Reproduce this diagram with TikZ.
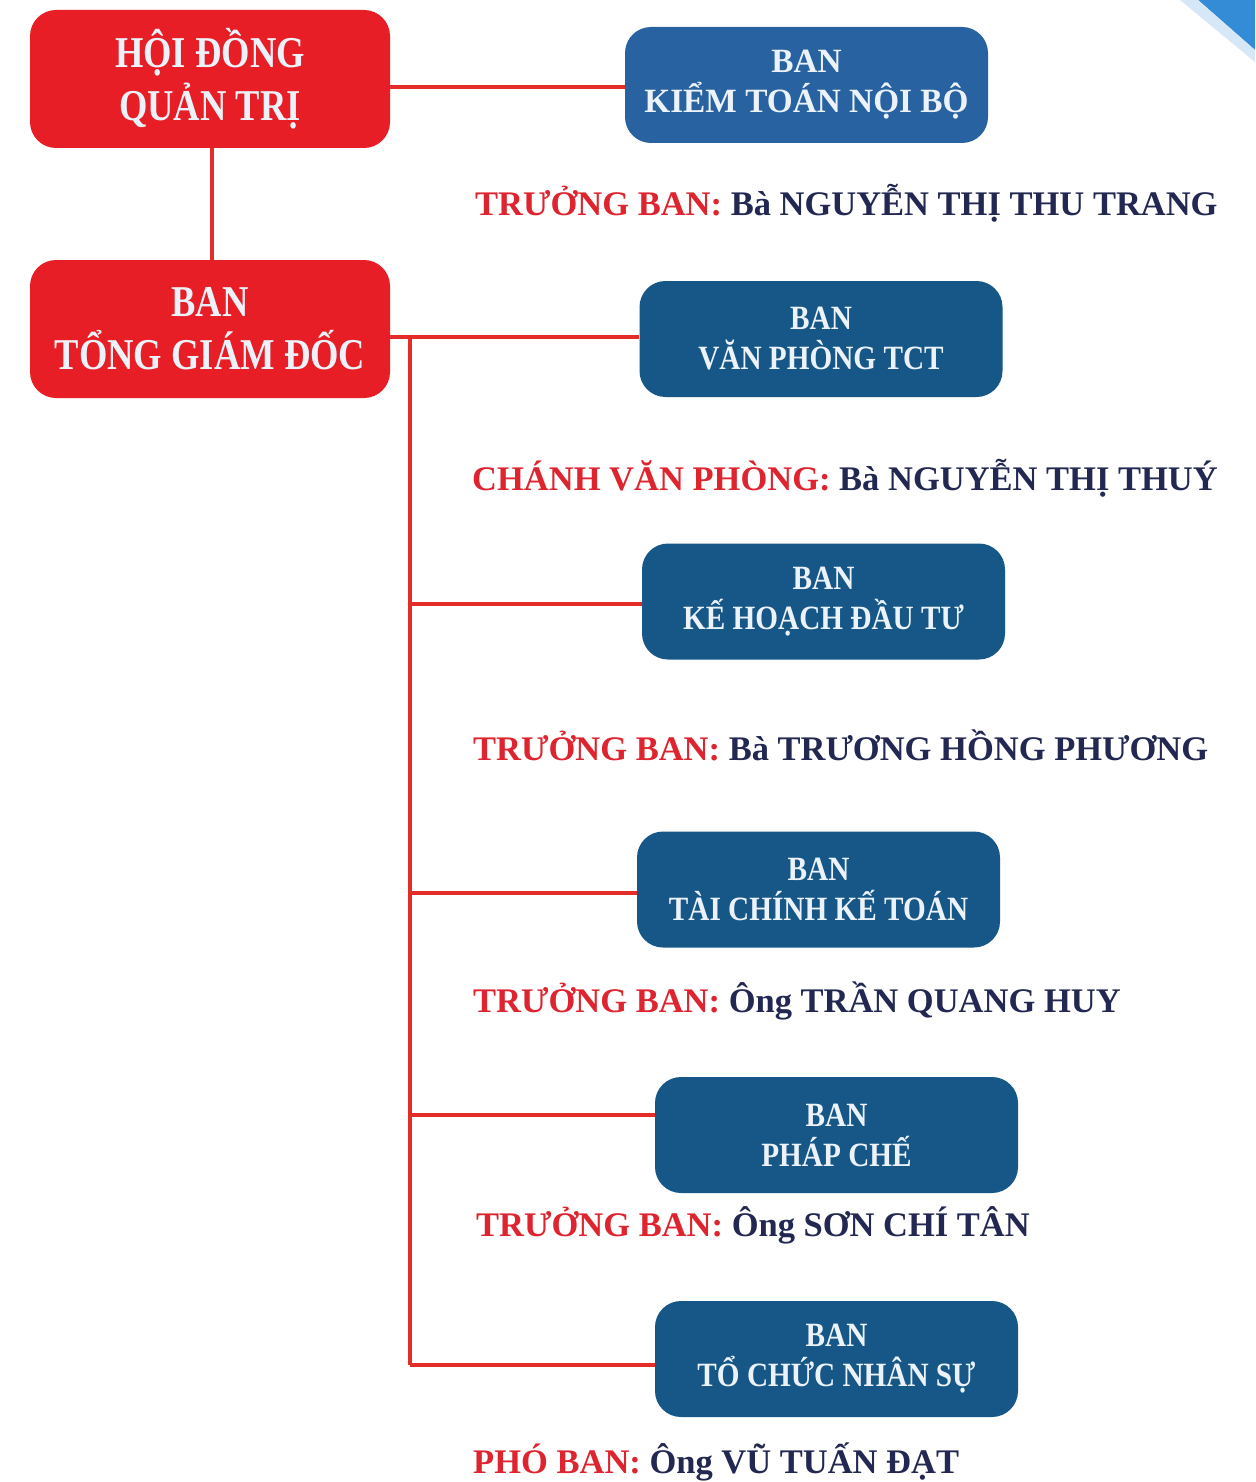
\documentclass[tikz,border=0pt]{standalone}
\usepackage{fontspec}
\setmainfont{Liberation Serif}
\newfontfamily\redfont[FakeStretch=0.83]{Liberation Serif}
\newfontfamily\bluefont[FakeStretch=0.86]{Liberation Serif}
\newfontfamily\ktfont[FakeStretch=0.98]{Liberation Serif}
\definecolor{boxred}{RGB}{232,30,38}
\definecolor{linered}{RGB}{226,45,40}
\definecolor{boxblue}{RGB}{23,87,135}
\definecolor{ktblue}{RGB}{40,98,160}
\definecolor{boxtext}{RGB}{236,242,250}
\definecolor{lblred}{RGB}{222,36,46}
\definecolor{lblnavy}{RGB}{34,40,82}
\definecolor{ribbon}{RGB}{52,140,215}
\begin{document}
\begin{tikzpicture}[x=1pt,y=-1pt,
  redbox/.style={fill=boxred,rounded corners=26pt,minimum width=360pt,minimum height=138pt,inner sep=0pt,
    text=boxtext,align=center,font=\redfont\bfseries\fontsize{44}{53}\selectfont},
  bluebox/.style={fill=boxblue,rounded corners=26pt,minimum width=363pt,minimum height=116pt,inner sep=0pt,
    text=boxtext,align=center,font=\bluefont\bfseries\fontsize{34}{40}\selectfont},
  lbl/.style={anchor=west,inner sep=0pt,font=\bfseries\fontsize{34.5}{40}\selectfont},
  conn/.style={draw=linered,line width=3.5pt}]
\useasboundingbox (0,0) rectangle (1255,1482);
\fill[white] (0,0) rectangle (1255,1482);
% corner ribbon
\fill[ribbon] (1198,0) -- (1255,0) -- (1255,50) -- cycle;
\fill[ribbon!20] (1180,0) -- (1198,0) -- (1255,50) -- (1255,62) -- cycle;

% nodes
\node[redbox] (hdqt) at (210,79) {HỘI ĐỒNG\\QUẢN TRỊ};
\node[redbox] (btgd) at (210,329) {BAN\\TỔNG GIÁM ĐỐC};
\node[bluebox,fill=ktblue,font=\ktfont\bfseries\fontsize{34}{40}\selectfont] (kt) at (806.5,85) {BAN\\KIỂM TOÁN NỘI BỘ};
\node[bluebox] (vp) at (821,339) {BAN\\VĂN PHÒNG TCT};
\node[bluebox] (khdt) at (823.5,601.5) {BAN\\KẾ HOẠCH ĐẦU TƯ};
\node[bluebox] (tckt) at (818.5,889.5) {BAN\\TÀI CHÍNH KẾ TOÁN};
\node[bluebox] (pc) at (836.5,1135) {BAN\\PHÁP CHẾ};
\node[bluebox] (tcns) at (836.5,1359) {BAN\\TỔ CHỨC NHÂN SỰ};

% labels
\node[lbl] (l1) at (475,203) {\textcolor{lblred}{TRƯỞNG BAN:} \textcolor{lblnavy}{Bà NGUYỄN THỊ THU TRANG}};
\node[lbl] (l2) at (472,478) {\textcolor{lblred}{CHÁNH VĂN PHÒNG:} \textcolor{lblnavy}{Bà NGUYỄN THỊ THUÝ}};
\node[lbl] (l3) at (473,745) {\textcolor{lblred}{TRƯỞNG BAN:} \textcolor{lblnavy}{Bà TRƯƠNG HỒNG PHƯƠNG}};
\node[lbl] (l4) at (473,1001) {\textcolor{lblred}{TRƯỞNG BAN:} \textcolor{lblnavy}{Ông TRẦN QUANG HUY}};
\node[lbl] (l5) at (476,1225) {\textcolor{lblred}{TRƯỞNG BAN:} \textcolor{lblnavy}{Ông SƠN CHÍ TÂN}};
\node[lbl] (l6) at (473,1462) {\textcolor{lblred}{PHÓ BAN:} \textcolor{lblnavy}{Ông VŨ TUẤN ĐẠT}};

% connectors
\coordinate (a0) at (212,87);
\draw[conn] (hdqt.south -| a0) -- (btgd.north -| a0);
\draw[conn] (a0 -| hdqt.east) -- (a0 -| kt.west);
\coordinate (b0) at (410,337);
\coordinate (b1) at (410,604);
\coordinate (b2) at (410,893);
\coordinate (b3) at (410,1115);
\coordinate (b4) at (410,1365);
\draw[conn] (b0 -| btgd.east) -- (b0 -| vp.west);
\draw[conn] (b0) -- (b4);
\draw[conn] (b1) -- (b1 -| khdt.west);
\draw[conn] (b2) -- (b2 -| tckt.west);
\draw[conn] (b3) -- (b3 -| pc.west);
\draw[conn] (b4) -- (b4 -| tcns.west);
\end{tikzpicture}
\end{document}
